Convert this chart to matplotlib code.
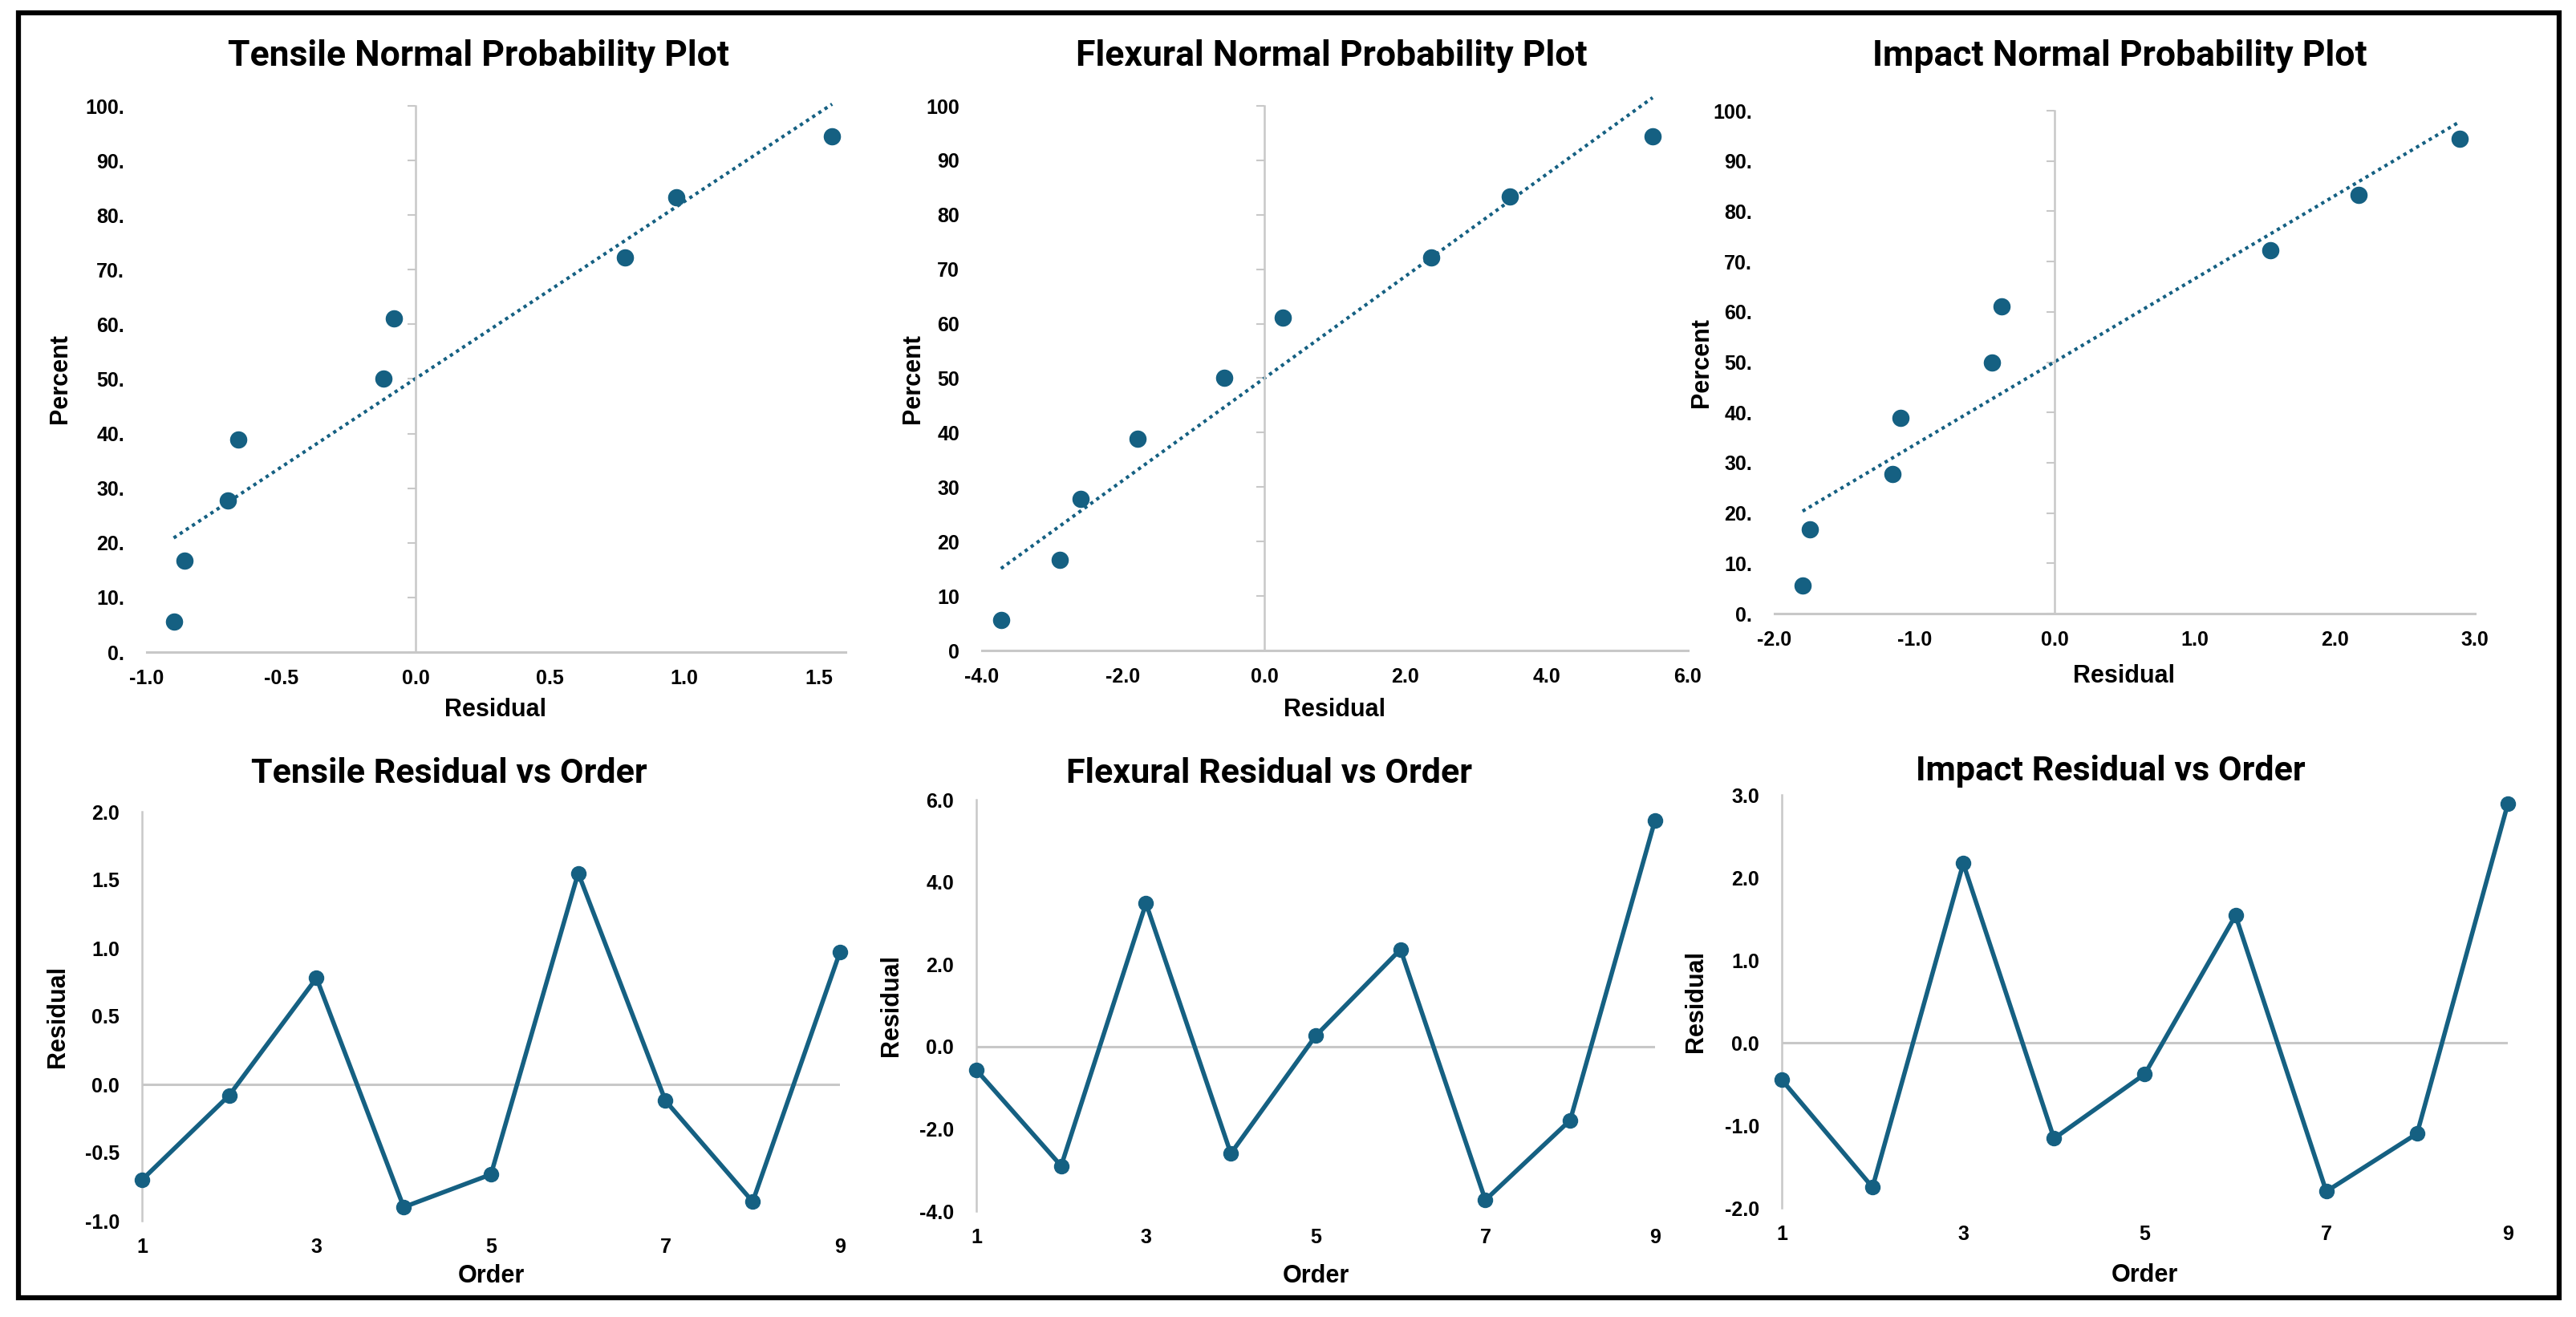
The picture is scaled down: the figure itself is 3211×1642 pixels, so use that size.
import numpy as np
import matplotlib.pyplot as plt
from matplotlib.patches import Rectangle

W, H = 3212, 1642
DPI = 100

BLUE = '#156082'
GRAY = '#C8C8C8'
TICK_FONT = 'Liberation Sans'
TITLE_FONT = 'Roboto'

# data
order = [1, 2, 3, 4, 5, 6, 7, 8, 9]
percent = [5.6, 16.7, 27.8, 38.9, 50.0, 61.1, 72.2, 83.3, 94.4]

tensile_resid = [-0.70, -0.08, 0.78, -0.90, -0.66, 1.55, -0.12, -0.86, 0.97]
flexural_resid = [-0.57, -2.90, 3.48, -2.60, 0.26, 2.36, -3.73, -1.79, 5.50]
impact_resid = [-0.45, -1.75, 2.17, -1.16, -0.38, 1.54, -1.80, -1.10, 2.89]

pct_ticks = [0, 10, 20, 30, 40, 50, 60, 70, 80, 90, 100]
pct_labels_dot = ["0.", "10.", "20.", "30.", "40.", "50.", "60.", "70.", "80.", "90.", "100."]
pct_labels = ["0", "10", "20", "30", "40", "50", "60", "70", "80", "90", "100"]

tensile_xticks = [-1.0, -0.5, 0.0, 0.5, 1.0, 1.5]
flexural_xticks = [-4.0, -2.0, 0.0, 2.0, 4.0, 6.0]
impact_xticks = [-2.0, -1.0, 0.0, 1.0, 2.0, 3.0]

tensile_yticks = [-1.0, -0.5, 0.0, 0.5, 1.0, 1.5, 2.0]
flexural_yticks = [-4.0, -2.0, 0.0, 2.0, 4.0, 6.0]
impact_yticks = [-2.0, -1.0, 0.0, 1.0, 2.0, 3.0]

order_ticks = [1, 3, 5, 7, 9]

fig = plt.figure(figsize=(W / DPI, H / DPI), dpi=DPI)


def px_axes(x0, y0, x1, y1):
    return fig.add_axes([x0 / W, 1 - y1 / H, (x1 - x0) / W, (y1 - y0) / H])


def ftext(x, y, s, **kw):
    fig.text(x / W, 1 - y / H, s, ha='center', va='center', **kw)


def tick_font(labels):
    for lb in labels:
        lb.set_fontfamily(TICK_FONT)
        lb.set_fontweight('bold')
        lb.set_fontsize(18)


def prob_plot(box, resid, xlim, xticks, ylabels):
    ax = px_axes(*box)
    x = np.sort(resid)
    ax.scatter(x, percent, s=210, color=BLUE, zorder=3, clip_on=False)
    k, b = np.polyfit(x, percent, 1)
    xs = np.array([x.min(), x.max()])
    ax.plot(xs, k * xs + b, color=BLUE, lw=3.0, linestyle=(0, (1, 1.2)), zorder=2, clip_on=False)
    ax.set_xlim(*xlim)
    ax.set_ylim(0, 100)
    for s in ['top', 'right']:
        ax.spines[s].set_visible(False)
    ax.spines['left'].set_position(('data', 0))
    ax.spines['left'].set_color(GRAY)
    ax.spines['left'].set_linewidth(1.8)
    ax.spines['bottom'].set_color(GRAY)
    ax.spines['bottom'].set_linewidth(2.2)
    ax.set_yticks(pct_ticks)
    ax.tick_params(axis='y', length=7, width=1.5, color=GRAY, labelleft=False)
    ax.set_xticks(xticks, [f"{v:.1f}" for v in xticks])
    ax.tick_params(axis='x', length=0, pad=15)
    tick_font(ax.get_xticklabels())
    sec = ax.secondary_yaxis(0)
    sec.set_yticks(pct_ticks, ylabels)
    sec.tick_params(length=0, pad=20)
    sec.spines['left'].set_visible(False)
    tick_font(sec.get_yticklabels())
    return ax


def order_plot(box, resid, ylim, yticks):
    ax = px_axes(*box)
    ax.plot(order, resid, '-o', color=BLUE, lw=4.0, ms=13, zorder=3, clip_on=False)
    ax.set_xlim(1, 9)
    ax.set_ylim(*ylim)
    ax.axhline(0, color=GRAY, lw=2.2, zorder=1)
    for s in ['top', 'right', 'bottom']:
        ax.spines[s].set_visible(False)
    ax.spines['left'].set_color(GRAY)
    ax.spines['left'].set_linewidth(1.8)
    ax.set_xticks(order_ticks, [str(v) for v in order_ticks])
    ax.set_yticks(yticks, [f"{v:.1f}" for v in yticks])
    ax.tick_params(axis='both', length=0)
    ax.tick_params(axis='x', pad=15)
    ax.tick_params(axis='y', pad=20)
    tick_font(ax.get_xticklabels())
    tick_font(ax.get_yticklabels())
    return ax


prob_plot((183, 132, 1054, 813), tensile_resid, (-1.0, 1.6), tensile_xticks, pct_labels_dot)
prob_plot((1224, 132, 2104, 811), flexural_resid, (-4.0, 6.0), flexural_xticks, pct_labels)
prob_plot((2212, 138, 3085, 765), impact_resid, (-2.0, 3.0), impact_xticks, pct_labels_dot)

order_plot((177, 1012, 1047, 1522), tensile_resid, (-1.0, 2.0), tensile_yticks)
order_plot((1217, 997, 2063, 1510), flexural_resid, (-4.0, 6.0), flexural_yticks)
order_plot((2221, 991, 3126, 1506), impact_resid, (-2.0, 3.0), impact_yticks)

title_kw = dict(fontsize=32, fontweight='bold', family=TITLE_FONT)
ftext(597, 70, "Tensile Normal Probability Plot", **title_kw)
ftext(1660, 70, "Flexural Normal Probability Plot", **title_kw)
ftext(2642, 70, "Impact Normal Probability Plot", **title_kw)
title_kw['fontsize'] = 31
ftext(560, 964, "Tensile Residual vs Order", **title_kw)
ftext(1582, 964, "Flexural Residual vs Order", **title_kw)
ftext(2631, 961, "Impact Residual vs Order", **title_kw)

label_kw = dict(fontsize=22, fontweight='bold', family=TICK_FONT)
ftext(75, 472, "Percent", rotation=90, **label_kw)
ftext(1138, 472, "Percent", rotation=90, **label_kw)
ftext(2121, 452, "Percent", rotation=90, **label_kw)
ftext(618, 885, "Residual", **label_kw)
ftext(1664, 885, "Residual", **label_kw)
ftext(2648, 843, "Residual", **label_kw)

ftext(72, 1267, "Residual", rotation=90, **label_kw)
ftext(1111, 1253, "Residual", rotation=90, **label_kw)
ftext(2114, 1248, "Residual", rotation=90, **label_kw)
ftext(612, 1591, "Order", **label_kw)
ftext(1640, 1591, "Order", **label_kw)
ftext(2673, 1590, "Order", **label_kw)

# black frame round the whole picture
fig.patches.append(Rectangle((23 / W, 1 - 1618 / H), (3190 - 23) / W, (1618 - 16) / H,
                             transform=fig.transFigure, fill=False, edgecolor='black', lw=4.5))

fig.savefig('out.png', dpi=DPI, facecolor='white')
